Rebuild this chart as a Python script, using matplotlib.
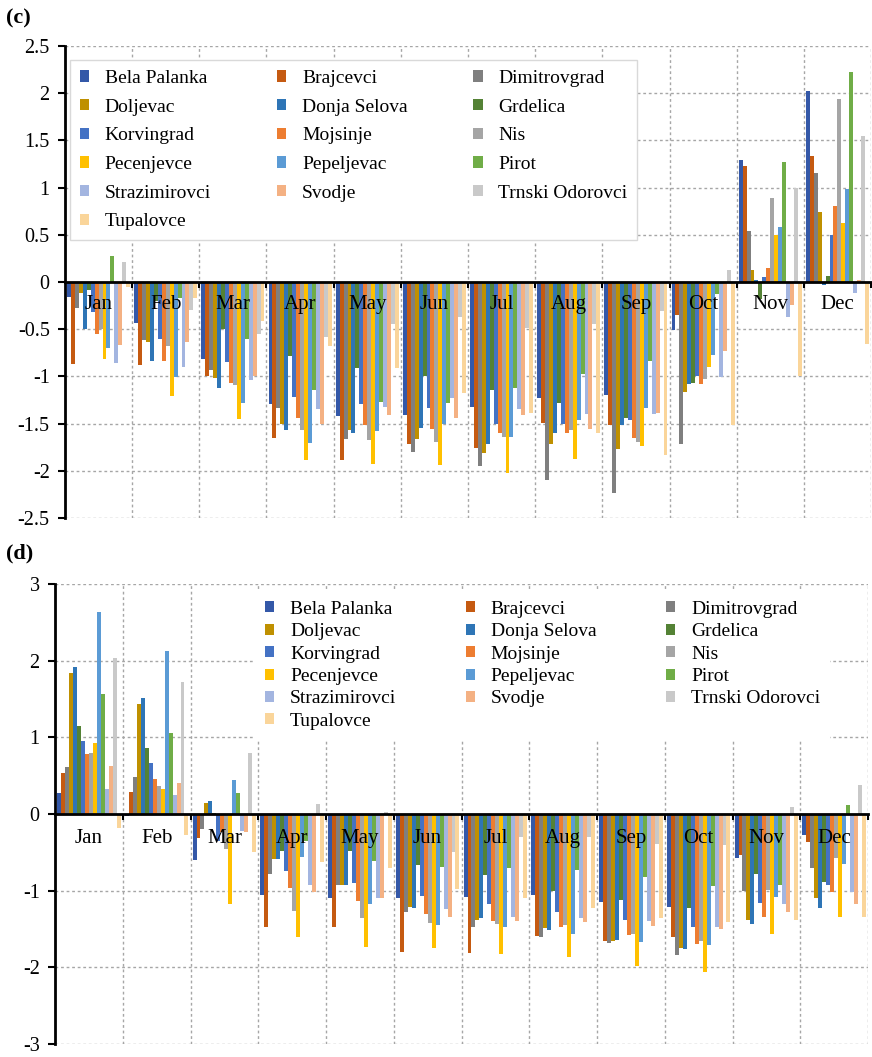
import matplotlib
matplotlib.use('Agg')
import matplotlib.pyplot as plt
import numpy as np
from matplotlib.patches import Patch
from matplotlib.ticker import FuncFormatter

plt.rcParams['font.family'] = ['Liberation Serif', 'DejaVu Serif']
plt.rcParams['axes.unicode_minus'] = False

months = ['Jan', 'Feb', 'Mar', 'Apr', 'May', 'Jun', 'Jul', 'Aug', 'Sep', 'Oct', 'Nov', 'Dec']
stations = ['Bela Palanka', 'Brajcevci', 'Dimitrovgrad', 'Doljevac', 'Donja Selova', 'Grdelica',
            'Korvingrad', 'Mojsinje', 'Nis', 'Pecenjevce', 'Pepeljevac', 'Pirot',
            'Strazimirovci', 'Svodje', 'Trnski Odorovci', 'Tupalovce']
colors = ['#3458A8', '#C55A11', '#7F7F7F', '#BF9000', '#2E75B6', '#548235',
          '#4472C4', '#ED7D31', '#A5A5A5', '#FFC000', '#5B9BD5', '#70AD47',
          '#A3B5E0', '#F4B183', '#C9C9C9', '#FAD59A']

# ---- panel (c) values ----
c_bela_palanka = [-0.16, -0.43, -0.82, -1.29, -1.42, -1.41, -1.32, -1.23, -1.20, -0.51, 1.29, 2.02]
c_brajcevci = [-0.87, -0.88, -1.00, -1.65, -1.89, -1.72, -1.76, -1.49, -1.52, -0.35, 1.23, 1.33]
c_dimitrovgrad = [-0.28, -0.61, -0.93, -1.34, -1.66, -1.80, -1.95, -2.10, -2.24, -1.72, 0.54, 1.15]
c_doljevac = [-0.12, -0.64, -1.02, -1.50, -1.57, -1.66, -1.81, -1.72, -1.77, -1.17, 0.13, 0.74]
c_donja_selova = [-0.50, -0.84, -1.12, -1.57, -1.60, -1.55, -1.72, -1.60, -1.51, -1.08, 0.02, -0.03]
c_grdelica = [-0.08, -0.20, -0.50, -0.78, -0.91, -1.00, -1.14, -1.28, -1.44, -1.07, -0.18, 0.06]
c_korvingrad = [-0.32, -0.60, -0.85, -1.22, -1.29, -1.34, -1.50, -1.50, -1.46, -1.00, 0.05, 0.50]
c_mojsinje = [-0.55, -0.84, -1.07, -1.44, -1.52, -1.56, -1.60, -1.60, -1.65, -1.08, 0.15, 0.81]
c_nis = [-0.50, -0.68, -1.09, -1.57, -1.67, -1.69, -1.64, -1.57, -1.70, -1.03, 0.89, 1.94]
c_pecenjevce = [-0.82, -1.21, -1.45, -1.89, -1.93, -1.94, -2.02, -1.87, -1.74, -0.90, 0.50, 0.63]
c_pepeljevac = [-0.70, -1.01, -1.28, -1.71, -1.58, -1.50, -1.64, -1.46, -1.34, -0.77, 0.58, 0.99]
c_pirot = [0.28, -0.17, -0.60, -1.14, -1.27, -1.28, -1.12, -0.97, -0.84, -0.13, 1.27, 2.22]
c_strazimirovci = [-0.86, -0.90, -1.04, -1.35, -1.32, -1.23, -1.35, -1.40, -1.40, -1.01, -0.37, -0.12]
c_svodje = [-0.67, -0.64, -1.00, -1.50, -1.41, -1.44, -1.41, -1.56, -1.39, -0.73, -0.24, 0.02]
c_trnski_odorovci = [0.21, -0.30, -0.55, -0.58, -0.45, -0.37, -0.49, -0.44, -0.31, 0.13, 1.00, 1.55]
c_tupalovce = [-0.05, -0.17, -0.41, -0.68, -0.91, -1.18, -1.39, -1.60, -1.83, -1.51, -1.00, -0.66]

# ---- panel (d) values ----
d_bela_palanka = [0.28, -0.03, -0.60, -1.05, -1.09, -1.09, -1.08, -1.06, -1.15, -1.21, -0.57, -0.28]
d_brajcevci = [0.54, 0.29, -0.31, -1.48, -1.48, -1.80, -1.81, -1.59, -1.65, -1.60, -0.53, -0.36]
d_dimitrovgrad = [0.61, 0.48, -0.20, -0.78, -0.93, -1.28, -1.47, -1.61, -1.68, -1.84, -1.01, -0.71]
d_doljevac = [1.84, 1.44, 0.15, -0.59, -0.93, -1.21, -1.38, -1.49, -1.66, -1.75, -1.38, -1.10]
d_donja_selova = [1.92, 1.51, 0.17, -0.59, -0.93, -1.23, -1.36, -1.51, -1.64, -1.76, -1.43, -1.23]
d_grdelica = [1.15, 0.86, 0.01, -0.48, -0.48, -0.66, -0.80, -1.00, -1.12, -1.22, -0.78, -0.89]
d_korvingrad = [0.95, 0.67, -0.35, -0.74, -0.90, -1.07, -1.18, -1.28, -1.38, -1.47, -1.16, -0.93]
d_mojsinje = [0.78, 0.46, -0.24, -0.97, -1.13, -1.30, -1.40, -1.48, -1.58, -1.69, -1.34, -1.02]
d_nis = [0.79, 0.37, -0.46, -1.27, -1.35, -1.42, -1.44, -1.45, -1.56, -1.66, -0.99, -0.58]
d_pecenjevce = [0.92, 0.33, -1.17, -1.61, -1.73, -1.75, -1.83, -1.87, -1.98, -2.06, -1.56, -1.34]
d_pepeljevac = [2.64, 2.13, 0.44, -0.56, -1.18, -1.45, -1.47, -1.56, -1.67, -1.71, -1.08, -0.65]
d_pirot = [1.57, 1.06, 0.27, -0.35, -0.61, -0.69, -0.70, -0.73, -0.82, -0.94, -0.92, 0.12]
d_strazimirovci = [0.32, 0.25, -0.22, -0.92, -1.10, -1.24, -1.34, -1.36, -1.39, -1.47, -1.18, -1.02]
d_svodje = [0.63, 0.41, -0.24, -1.02, -1.09, -1.34, -1.40, -1.41, -1.46, -1.50, -1.28, -1.17]
d_trnski_odorovci = [2.04, 1.72, 0.80, 0.13, 0.02, -0.50, -0.30, -0.30, -0.39, -0.40, 0.09, 0.38]
d_tupalovce = [-0.18, -0.28, -0.49, -0.63, -0.71, -0.98, -1.09, -1.23, -1.36, -1.41, -1.38, -1.34]

data_c = [c_bela_palanka, c_brajcevci, c_dimitrovgrad, c_doljevac, c_donja_selova, c_grdelica,
          c_korvingrad, c_mojsinje, c_nis, c_pecenjevce, c_pepeljevac, c_pirot,
          c_strazimirovci, c_svodje, c_trnski_odorovci, c_tupalovce]
data_d = [d_bela_palanka, d_brajcevci, d_dimitrovgrad, d_doljevac, d_donja_selova, d_grdelica,
          d_korvingrad, d_mojsinje, d_nis, d_pecenjevce, d_pepeljevac, d_pirot,
          d_strazimirovci, d_svodje, d_trnski_odorovci, d_tupalovce]

W, H = 872, 1057
fig = plt.figure(figsize=(W / 100, H / 100), dpi=100)
ax_c = fig.add_axes([65 / W, 1 - 518 / H, 806 / W, 472 / H])
ax_d = fig.add_axes([55 / W, 1 - 1044 / H, 813 / W, 460 / H])

GRID = '#A6A6A6'


def draw(ax, data, ylim, step, leg_bbox, frame, labelspacing, xpad):
    n = len(stations)
    group = 0.94
    bw = group / n
    x = np.arange(len(months))
    for i, vals in enumerate(data):
        ax.bar(x - group / 2 + (i + 0.5) * bw, vals, width=bw, color=colors[i],
               label=stations[i], zorder=2, linewidth=0)
    ax.set_xlim(-0.5, len(months) - 0.5)
    ax.set_ylim(*ylim)
    yt = np.arange(ylim[0], ylim[1] + 1e-9, step)
    ax.set_yticks(yt)
    ax.yaxis.set_major_formatter(FuncFormatter(lambda v, p: f'{v:g}'))
    for y in yt:
        if abs(y) > 1e-9:
            ax.axhline(y, color=GRID, ls=(0, (2, 2)), lw=1, zorder=0.5)
    for xb in np.arange(0.5, len(months), 1):
        ax.axvline(xb, color=GRID, ls=(0, (2, 2)), lw=1, zorder=0.5)
    ax.set_axisbelow(False)
    for s in ['top', 'right']:
        ax.spines[s].set_visible(False)
    ax.spines['bottom'].set_position(('data', 0))
    ax.spines['bottom'].set_linewidth(2)
    ax.spines['left'].set_linewidth(2)
    ax.set_xticks(x)
    ax.set_xticklabels(months)
    ax.tick_params(axis='x', which='major', length=0, pad=xpad, labelsize=15)
    ax.set_xticks(np.arange(0.5, len(months), 1), minor=True)
    ax.tick_params(axis='x', which='minor', length=4, width=1.5, direction='out')
    ax.tick_params(axis='y', length=5, width=1.5, direction='out', labelsize=14.5, pad=6)

    handles = [Patch(facecolor=c, edgecolor='none') for c in colors]
    order = [0, 3, 6, 9, 12, 15, 1, 4, 7, 10, 13, 2, 5, 8, 11, 14]
    leg = ax.legend([handles[i] for i in order], [stations[i] for i in order],
                    ncol=3, loc='upper left', bbox_to_anchor=leg_bbox, mode='expand',
                    fontsize=14, frameon=True, fancybox=False, framealpha=1,
                    handlelength=0.5, handleheight=0.5, handletextpad=0.8,
                    labelspacing=labelspacing, borderpad=0.5, borderaxespad=0)
    leg.get_frame().set_edgecolor('#D9D9D9' if frame else 'none')
    leg.get_frame().set_linewidth(1)
    leg.set_zorder(5)


draw(ax_c, data_c, (-2.5, 2.5), 0.5, (0.006, 0.0, 0.704, 0.97), True, 0.6, 9)
draw(ax_d, data_d, (-3, 3), 1, (0.246, 0.0, 0.707, 0.985), False, 0.28, 11)

fig.text(6 / W, 1 - 18 / H, '(c)', fontsize=16, fontweight='bold', va='center', ha='left')
fig.text(6 / W, 1 - 553 / H, '(d)', fontsize=16, fontweight='bold', va='center', ha='left')

fig.savefig('out.png', dpi=100)
